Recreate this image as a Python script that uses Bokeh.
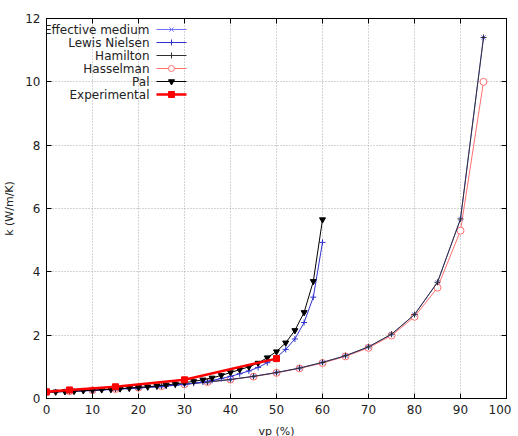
from bokeh.plotting import figure
from bokeh.models import Range1d, LinearAxis, FixedTicker, Label
from bokeh.embed import file_html
from bokeh.resources import INLINE

# ---- data ----
vp_long = [0, 5, 10, 15, 20, 25, 30, 35, 40, 45, 50, 55, 60, 65, 70, 75, 80, 85, 90, 95]
k_effective = [0.2, 0.23, 0.26, 0.3, 0.34, 0.39, 0.45, 0.52, 0.6, 0.7, 0.82, 0.96, 1.14,
               1.35, 1.63, 2.03, 2.65, 3.67, 5.67, 11.4]
k_hamilton = [0.2, 0.23, 0.26, 0.3, 0.34, 0.39, 0.45, 0.52, 0.6, 0.7, 0.82, 0.96, 1.14,
              1.35, 1.63, 2.03, 2.65, 3.67, 5.67, 11.4]
k_hasselman = [0.2, 0.23, 0.26, 0.3, 0.34, 0.39, 0.45, 0.52, 0.6, 0.69, 0.81, 0.95, 1.12,
               1.33, 1.6, 1.99, 2.58, 3.5, 5.3, 10.0]

vp_short = [0, 2, 4, 6, 8, 10, 12, 14, 16, 18, 20, 22, 24, 26, 28, 30, 32, 34, 36, 38,
            40, 42, 44, 46, 48, 50, 52, 54, 56, 58, 60]
k_lewis = [0.2, 0.21, 0.22, 0.23, 0.24, 0.25, 0.27, 0.28, 0.3, 0.31, 0.33, 0.35, 0.37,
           0.39, 0.42, 0.45, 0.48, 0.52, 0.57, 0.63, 0.7, 0.78, 0.87, 0.98, 1.13, 1.3,
           1.55, 1.88, 2.4, 3.2, 4.93]
k_pal = [0.2, 0.21, 0.22, 0.23, 0.25, 0.26, 0.28, 0.29, 0.31, 0.33, 0.35, 0.37, 0.4,
         0.43, 0.46, 0.5, 0.54, 0.59, 0.65, 0.73, 0.82, 0.91, 1.0, 1.12, 1.29, 1.48,
         1.76, 2.15, 2.72, 3.7, 5.65]

vp_exp = [0, 5, 15, 30, 50]
k_exp = [0.21, 0.27, 0.37, 0.59, 1.26]

x_ticks = [0, 10, 20, 30, 40, 50, 60, 70, 80, 90, 100]
y_ticks = [0, 2, 4, 6, 8, 10, 12]

FONT = "DejaVu Sans"
FW, FH = 460, 380

p = figure(frame_width=FW, frame_height=FH, x_range=Range1d(0, 100), y_range=Range1d(0, 12),
           output_backend="svg", toolbar_location=None,
           min_border_left=37, min_border_right=5, min_border_top=18, min_border_bottom=30,
           background_fill_color="white", border_fill_color="white")
p.extra_x_ranges = {"leg": Range1d(0, FW)}
p.extra_y_ranges = {"leg": Range1d(0, FH)}

p.outline_line_color = "black"
p.outline_line_width = 1

for ax in (p.xaxis[0], p.yaxis[0]):
    ax.major_tick_in = 5
    ax.major_tick_out = 0
    ax.minor_tick_in = 0
    ax.minor_tick_out = 0
    ax.axis_line_color = "black"
    ax.major_tick_line_color = "black"
    ax.major_label_text_font = FONT
    ax.major_label_text_font_size = "12px"
    ax.major_label_text_color = "#222222"
    ax.axis_label_text_font = FONT
    ax.axis_label_text_font_size = "11px"
    ax.axis_label_text_font_style = "normal"
    ax.axis_label_text_color = "#222222"

p.xaxis[0].ticker = FixedTicker(ticks=x_ticks)
p.yaxis[0].ticker = FixedTicker(ticks=y_ticks)
p.xaxis[0].axis_label = "vp (%)"
p.yaxis[0].axis_label = "k (W/m/K)"
p.xaxis[0].major_label_standoff = 6
p.yaxis[0].major_label_standoff = 6
p.xaxis[0].axis_label_standoff = 8
p.yaxis[0].axis_label_standoff = 6

# mirrored ticks (no labels)
top = LinearAxis(ticker=FixedTicker(ticks=x_ticks),
                 major_label_overrides={t: "" for t in x_ticks},
                 major_tick_in=5, major_tick_out=0, minor_tick_in=0, minor_tick_out=0,
                 axis_line_color="black", major_label_standoff=0)
right = LinearAxis(ticker=FixedTicker(ticks=y_ticks),
                   major_label_overrides={t: "" for t in y_ticks},
                   major_tick_in=5, major_tick_out=0, minor_tick_in=0, minor_tick_out=0,
                   axis_line_color="black", major_label_standoff=0)
p.add_layout(top, "above")
p.add_layout(right, "right")

for g in (p.xgrid[0], p.ygrid[0]):
    g.grid_line_color = "#a8a8a8"
    g.grid_line_dash = "1 2"
    g.grid_line_width = 1
p.xgrid[0].ticker = FixedTicker(ticks=x_ticks)
p.ygrid[0].ticker = FixedTicker(ticks=y_ticks)

C_EFF = "#7070ff"
C_LN = "#3030d0"
C_HAM = "#303030"
C_HAS = "#ff7070"
C_PAL = "#000000"
C_EXP = "#ff0000"

def series(x, y, color, marker, lw=1, size=7, fill=None):
    p.line(x, y, line_color=color, line_width=lw)
    if marker is not None:
        p.scatter(x, y, marker=marker, size=size, line_color=color,
                  fill_color=fill if fill else color, line_width=1)

series(vp_long, k_hasselman, C_HAS, "circle", size=7, fill="white")
series(vp_long, k_effective, C_EFF, "x", size=6)
series(vp_long, k_hamilton, C_HAM, "cross", size=6)
series(vp_short, k_lewis, C_LN, "cross", size=6)
series(vp_short, k_pal, C_PAL, "inverted_triangle", size=6)
series(vp_exp, k_exp, C_EXP, "square", lw=2.5, size=6)

# gnuplot-style key (label right-aligned, sample to the right)
labels = ["Effective medium", "Lewis Nielsen", "Hamilton", "Hasselman", "Pal", "Experimental"]
colors = [C_EFF, C_LN, C_HAM, C_HAS, C_PAL, C_EXP]
markers = ["x", "cross", "cross", "circle", "inverted_triangle", "square"]
fills = [C_EFF, C_LN, C_HAM, "white", C_PAL, C_EXP]
widths = [1, 1, 1, 1, 1, 2.5]
row_y = [FH - 11 - 13 * i for i in range(len(labels))]

for i in range(len(labels)):
    p.add_layout(Label(x=103, y=row_y[i], text=labels[i], x_range_name="leg",
                       y_range_name="leg", text_align="right", text_baseline="middle",
                       text_font=FONT, text_font_size="12px", text_color="#222222"))
    p.line([110, 140], [row_y[i], row_y[i]], line_color=colors[i], line_width=widths[i],
           x_range_name="leg", y_range_name="leg")
    p.scatter([125], [row_y[i]], marker=markers[i], size=6, line_color=colors[i],
              fill_color=fills[i], x_range_name="leg", y_range_name="leg")

open("out.html", "w").write(file_html(p, INLINE))
